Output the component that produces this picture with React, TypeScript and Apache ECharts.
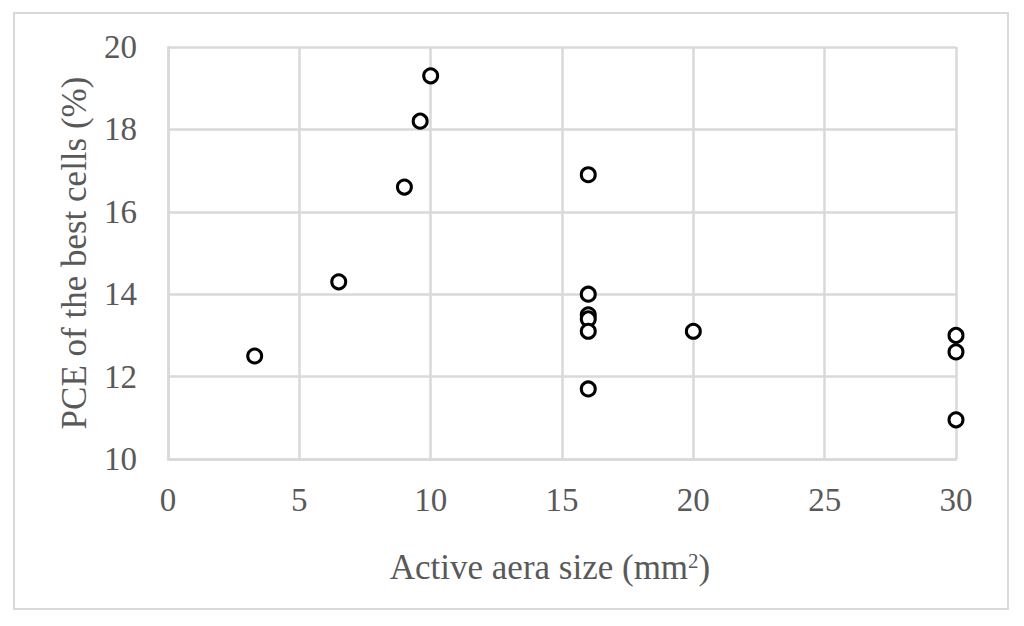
import React, { useEffect, useRef } from "react";
import * as echarts from "echarts";

const areaSizes = [3.3, 6.5, 9.0, 9.6, 10.0, 16, 16, 16, 16, 16, 16, 20, 30, 30, 30];
const pceValues = [12.5, 14.3, 16.6, 18.2, 19.3, 16.9, 14.0, 13.5, 13.4, 13.1, 11.7, 13.1, 13.0, 12.6, 10.95];
const xTitle = "Active aera size (mm{sup|2})";
const yTitle = "PCE of the best cells (%)";

export default function App() {
  const ref = useRef<HTMLDivElement>(null);
  useEffect(() => {
    if (!ref.current) return;
    const chart = echarts.init(ref.current, null, { renderer: "svg" });
    const font = "'Liberation Serif', 'Times New Roman', serif";
    const gridColor = "#d9d9d9";
    chart.setOption({
      animation: false,
      backgroundColor: "#ffffff",
      graphic: [
        {
          type: "rect",
          shape: { x: 14, y: 13, width: 994, height: 596 },
          style: { fill: "none", stroke: gridColor, lineWidth: 2 },
          silent: true,
        },
      ],
      grid: { left: 168, top: 47, width: 788, height: 412, containLabel: false },
      xAxis: {
        type: "value",
        min: 0,
        max: 30,
        interval: 5,
        name: xTitle,
        nameLocation: "middle",
        nameGap: 91,
        nameTextStyle: {
          fontFamily: font,
          fontSize: 35,
          color: "#595959",
          padding: [0, 24, 0, 0],
          rich: { sup: { fontFamily: font, fontSize: 21, color: "#595959", verticalAlign: "top", padding: [0, 0, 14, 0] } },
        },
        axisLine: { show: true, lineStyle: { color: gridColor, width: 2.5 } },
        axisTick: { show: false },
        splitLine: { show: true, lineStyle: { color: gridColor, width: 2.5 } },
        axisLabel: { fontFamily: font, fontSize: 33, color: "#595959", margin: 24 },
      },
      yAxis: {
        type: "value",
        min: 10,
        max: 20,
        interval: 2,
        name: yTitle,
        nameLocation: "middle",
        nameGap: 76,
        nameTextStyle: { fontFamily: font, fontSize: 35, color: "#595959" },
        axisLine: { show: true, lineStyle: { color: gridColor, width: 2.5 } },
        axisTick: { show: false },
        splitLine: { show: true, lineStyle: { color: gridColor, width: 2.5 } },
        axisLabel: { fontFamily: font, fontSize: 33, color: "#595959", margin: 31 },
      },
      series: [
        {
          type: "scatter",
          data: areaSizes.map((x, i) => [x, pceValues[i]]),
          symbol: "circle",
          symbolSize: 14,
          itemStyle: { color: "#ffffff", borderColor: "#000000", borderWidth: 3, opacity: 1 },
        },
      ],
    });
    return () => chart.dispose();
  }, []);
  return <div ref={ref} style={{ position: "fixed", left: 0, top: 0, width: 1024, height: 626 }} />;
}
